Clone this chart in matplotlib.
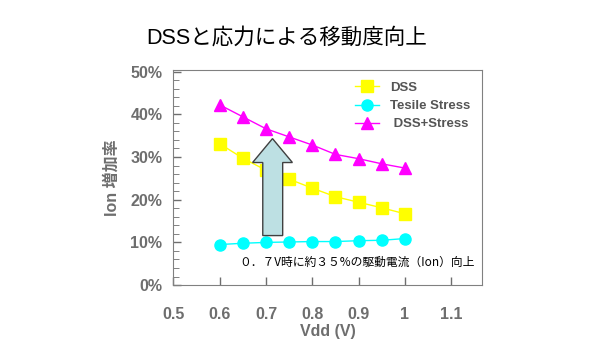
import numpy as np
import matplotlib.pyplot as plt
from matplotlib.patches import Polygon
from matplotlib.ticker import MultipleLocator, PercentFormatter

plt.rcParams['font.family'] = ['Liberation Sans', 'Noto Sans CJK JP', 'DejaVu Sans']

vdd = [0.6, 0.65, 0.7, 0.75, 0.8, 0.85, 0.9, 0.95, 1.0]
dss = [33.1, 29.7, 26.9, 24.8, 22.7, 20.7, 19.4, 18.1, 16.7]
stress = [9.5, 9.8, 10.0, 10.1, 10.2, 10.2, 10.4, 10.5, 10.9]
dss_stress = [42.2, 39.4, 36.6, 34.7, 32.8, 30.6, 29.6, 28.4, 27.4]
labels = ['DSS', 'Tesile Stress', ' DSS+Stress']

gray = '#6e6e6e'

fig = plt.figure(figsize=(6, 3.6), dpi=100)
ax = fig.add_axes([0.289, 0.208, 0.514, 0.598])

ax.plot(vdd, dss, '-s', color='#ffff00', ms=8, lw=1, label=labels[0], zorder=3)
ax.plot(vdd, stress, '-o', color='#00ffff', ms=8, lw=1, label=labels[1], zorder=3)
ax.plot(vdd, dss_stress, '-^', color='#ff00ff', ms=8, lw=1, label=labels[2], zorder=3)

# big arrow (annotation)
arrow = Polygon([(0.693, 11.6), (0.736, 11.6), (0.736, 28.7), (0.757, 28.7),
                 (0.714, 34.3), (0.671, 28.7), (0.693, 28.7)],
                closed=True, facecolor='#bde0e3', edgecolor='#404040', lw=1, zorder=4)
ax.add_patch(arrow)

ax.text(0.643, 5.3, '０．７V時に約３５%の駆動電流（Ion）向上', fontsize=8.5,
        family=['Noto Sans CJK JP', 'DejaVu Sans'], color='black', va='center', zorder=5)

ax.set_xlim(0.5, 1.166)
ax.set_ylim(0, 50.4)
ax.set_xticks([0.5, 0.6, 0.7, 0.8, 0.9, 1.0, 1.1])
ax.set_xticklabels(['0.5', '0.6', '0.7', '0.8', '0.9', '1', '1.1'])
ax.yaxis.set_major_locator(MultipleLocator(10))
ax.yaxis.set_minor_locator(MultipleLocator(2))
ax.yaxis.set_major_formatter(PercentFormatter(decimals=0))
ax.tick_params(axis='both', direction='in', colors=gray, labelsize=11.5,
               labelcolor=gray, width=1, length=6)
ax.tick_params(axis='y', which='minor', direction='in', color=gray, length=4)
ax.tick_params(axis='y', pad=8)
ax.tick_params(axis='x', pad=16)
for lab in ax.get_xticklabels() + ax.get_yticklabels():
    lab.set_fontweight('bold')
for s in ax.spines.values():
    s.set_color('#808080')

ax.set_xlabel('Vdd (V)', fontsize=11.5, fontweight='bold', color=gray, labelpad=1)
ax.set_ylabel('Ion 増加率', fontsize=11.5, fontweight='bold', color=gray,
              family=['Liberation Sans', 'Noto Sans CJK JP'], labelpad=8)

leg = ax.legend(loc='upper right', frameon=False, fontsize=9.5, handlelength=1.8,
                labelspacing=0.45, bbox_to_anchor=(1.0, 1.0))
for t in leg.get_texts():
    t.set_color('#555555')
    t.set_fontweight('bold')

fig.text(0.478, 0.893, 'DSSと応力による移動度向上', fontsize=15.5, ha='center', va='center',
         family=['Liberation Sans', 'Noto Sans CJK JP'])

fig.savefig('out.png', dpi=100)
